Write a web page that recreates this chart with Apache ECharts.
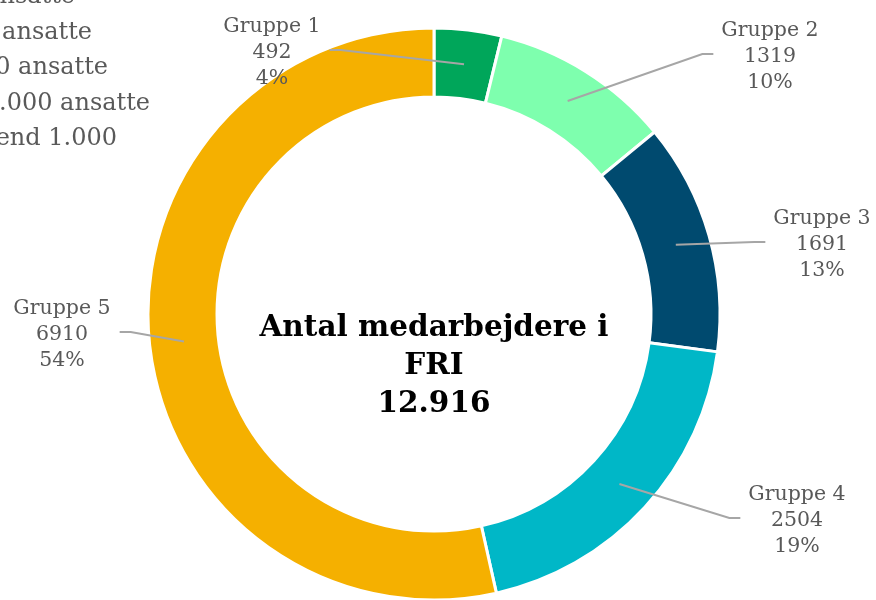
<!DOCTYPE html>
<html>
<head>
<meta charset="utf-8">
<script src="https://cdn.jsdelivr.net/npm/echarts@6/dist/echarts.min.js"></script>
<style>
  html, body { margin: 0; padding: 0; background: #fff; }
  #chart { width: 876px; height: 600px; }
</style>
</head>
<body>
<div id="chart"></div>
<script>
'use strict';

// data
const groups = ['Gruppe 1', 'Gruppe 2', 'Gruppe 3', 'Gruppe 4', 'Gruppe 5'];
const employees = [492, 1319, 1691, 2504, 6910];
const colors = ['#00a65a', '#7effae', '#004a6f', '#00b7c7', '#f5b000'];
const legendLines = [
  'Gruppe 1: Under 10 ansatte',
  'Gruppe 2: 10-49 ansatte',
  'Gruppe 3: 50-250 ansatte',
  'Gruppe 4: 250-1.000 ansatte',
  'Gruppe 5: Mere end 1.000'
];
const centerTitle = 'Antal medarbejdere i\nFRI';

// layout (px)
const CX = 434;
const CY = 314;
const R_IN = 217;
const R_OUT = 286;
const labelPos = [[272, 53], [770, 57], [822, 245], [797, 521], [62, 335]];
const legendRight = [75, 92, 108, 150, 117];
const FONT = '"DejaVu Serif", Georgia, serif';

const total = employees.reduce((s, v) => s + v, 0);
const fmtTotal = String(total).replace(/\B(?=(\d{3})+(?!\d))/g, '.');
const pieData = groups.map((g, i) => ({ name: g, value: employees[i] }));

const chart = echarts.init(document.getElementById('chart'), null, { renderer: 'canvas' });

// Excel-style leaders: start mid-ring, short horizontal tail at the label
function layoutLabel(p) {
  const [x, y] = labelPos[p.dataIndex];
  const w = p.labelRect.width;
  const right = x > CX;
  const ax = right ? x - w / 2 - 8 : x + w / 2 + 9;
  const bx = right ? ax - 11 : ax + 11;
  const p0 = p.labelLinePoints ? p.labelLinePoints[0] : [CX, CY - R_OUT];
  const len = Math.hypot(p0[0] - CX, p0[1] - CY) || 1;
  const k = ((R_IN + R_OUT) / 2) / len;
  const mid = [CX + (p0[0] - CX) * k, CY + (p0[1] - CY) * k];
  return {
    x, y,
    align: 'center',
    verticalAlign: 'middle',
    labelLinePoints: [mid, [bx, y - 3], [ax, y - 3]]
  };
}

chart.setOption({
  backgroundColor: '#fff',
  animation: false,
  color: colors,
  graphic: [
    {
      type: 'text',
      x: CX,
      y: 366,
      z: 10,
      style: {
        text: centerTitle + '\n' + fmtTotal,
        font: 'bold 29.5px ' + FONT,
        fill: '#000',
        textAlign: 'center',
        textVerticalAlign: 'middle',
        lineHeight: 38
      }
    }
  ].concat(legendLines.map((t, i) => ({
    type: 'text',
    x: legendRight[i],
    y: 9 + i * 35.5,
    style: {
      text: t,
      font: '24px ' + FONT,
      fill: '#595959',
      textAlign: 'right',
      textVerticalAlign: 'bottom'
    }
  }))),
  series: [
    {
      type: 'pie',
      z: 2,
      center: [CX, CY],
      radius: [R_IN, R_OUT],
      startAngle: 90,
      clockwise: true,
      silent: true,
      itemStyle: { borderColor: '#fff', borderWidth: 3 },
      label: { show: false },
      labelLine: { show: false },
      data: pieData
    },
    {
      // transparent copy on top so the leader lines lie over the ring
      type: 'pie',
      z: 5,
      center: [CX, CY],
      radius: [R_IN, R_OUT],
      startAngle: 90,
      clockwise: true,
      silent: true,
      avoidLabelOverlap: false,
      itemStyle: { color: 'rgba(0,0,0,0)', borderWidth: 0 },
      label: {
        show: true,
        position: 'outside',
        fontFamily: FONT,
        fontSize: 20.5,
        lineHeight: 26,
        color: '#595959',
        align: 'center',
        formatter: (p) => p.name + '\n' + p.value + '\n' + Math.round(p.percent) + '%'
      },
      labelLine: {
        show: true,
        length: 20,
        length2: 10,
        lineStyle: { color: '#a6a6a6', width: 2 }
      },
      labelLayout: layoutLabel,
      data: pieData
    }
  ]
});
</script>
</body>
</html>
